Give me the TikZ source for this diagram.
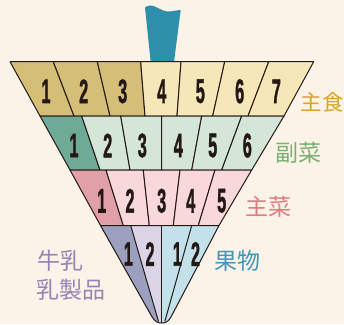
\documentclass[tikz,border=0pt]{standalone}
\usepackage{fontspec}
\newfontfamily\cjk{Noto Sans CJK JP}
\newfontfamily\numfont{Liberation Sans}[BoldFeatures={FakeBold=1.6}]
\definecolor{bg}{HTML}{FCF3E8}
\definecolor{ink}{HTML}{231815}
\definecolor{grainD}{HTML}{D4BE78}
\definecolor{grainL}{HTML}{F6E7B8}
\definecolor{vegD}{HTML}{6EAA95}
\definecolor{vegL}{HTML}{D4E6D7}
\definecolor{mainD}{HTML}{E1A0A8}
\definecolor{mainL}{HTML}{F9D8DC}
\definecolor{milkD}{HTML}{9BA0BE}
\definecolor{milkL}{HTML}{DAD4E6}
\definecolor{fruitL}{HTML}{C3E1EB}
\definecolor{handle}{HTML}{2E8FAA}
\definecolor{labGrain}{HTML}{D9A520}
\definecolor{labVeg}{HTML}{78AF6E}
\definecolor{labMain}{HTML}{E07B80}
\definecolor{labFruit}{HTML}{4196B9}
\definecolor{labMilk}{HTML}{9683B4}
\newcommand\dg[1]{\scalebox{0.48}[1]{\numfont\bfseries\fontsize{34}{34}\selectfont #1}}
\tikzset{
  cell/.style={draw=ink, line width=1pt, line join=round},
  divider/.style={draw=ink, line width=1pt},
  digit/.style={inner sep=0pt, text=ink},
  lab/.style={inner sep=0pt, anchor=base west, font=\cjk\fontsize{23}{23}\selectfont},
}
\begin{document}
\begin{tikzpicture}[x=1pt, y=-1pt]
\useasboundingbox (0,0) rectangle (344,324);
\fill[bg] (0,0) rectangle (344,324);
\clip (0,0) rectangle (344,324);
% handle
\fill[handle] (145,7.5) .. controls (148,5) and (152,5) .. (156,7)
  .. controls (161,9.5) and (165,12) .. (170,11.5)
  .. controls (174,11) and (178,10) .. (180.7,10)
  -- (174,62) -- (150.7,62) -- cycle;
% row 1 : grains
\filldraw[cell, fill=grainD] (10,61.7) -- (53.3,61.7) -- (74,116) -- (40,116) -- cycle;
\filldraw[cell, fill=grainD] (53.3,61.7) -- (97.3,61.7) -- (110,116) -- (74,116) -- cycle;
\filldraw[cell, fill=grainD] (97.3,61.7) -- (140.7,61.7) -- (145,116) -- (110,116) -- cycle;
\filldraw[cell, fill=grainL] (140.7,61.7) -- (181,61.7) -- (177,116) -- (145,116) -- cycle;
\filldraw[cell, fill=grainL] (181,61.7) -- (224.7,61.7) -- (212.7,116) -- (177,116) -- cycle;
\filldraw[cell, fill=grainL] (224.7,61.7) -- (268.7,61.7) -- (248,116) -- (212.7,116) -- cycle;
\filldraw[cell, fill=grainL] (268.7,61.7) -- (313.7,61.7) -- (284,116) -- (248,116) -- cycle;
% row 2 : vegetables
\filldraw[cell, fill=vegD] (40,116) -- (81.7,116) -- (100,170) -- (70,170) -- cycle;
\filldraw[cell, fill=vegL] (81.7,116) -- (120.7,116) -- (130,170) -- (100,170) -- cycle;
\filldraw[cell, fill=vegL] (120.7,116) -- (161.7,116) -- (161.7,170) -- (130,170) -- cycle;
\filldraw[cell, fill=vegL] (161.7,116) -- (201.7,116) -- (191.7,170) -- (161.7,170) -- cycle;
\filldraw[cell, fill=vegL] (201.7,116) -- (241.7,116) -- (221.7,170) -- (191.7,170) -- cycle;
\filldraw[cell, fill=vegL] (241.7,116) -- (284,116) -- (251.7,170) -- (221.7,170) -- cycle;
% row 3 : main dishes
\filldraw[cell, fill=mainD] (70,170) -- (106,170) -- (123.3,225.5) -- (100.5,225.5) -- cycle;
\filldraw[cell, fill=mainL] (106,170) -- (143.3,170) -- (149.3,225.5) -- (123.3,225.5) -- cycle;
\filldraw[cell, fill=mainL] (143.3,170) -- (180,170) -- (173.3,225.5) -- (149.3,225.5) -- cycle;
\filldraw[cell, fill=mainL] (180,170) -- (215,170) -- (198.3,225.5) -- (173.3,225.5) -- cycle;
\filldraw[cell, fill=mainL] (215,170) -- (251.7,170) -- (219,225.5) -- (198.3,225.5) -- cycle;
% row 4 : milk and fruit
\begin{scope}
  \clip (100.5,225.5) -- (151.5,316) .. controls (155,322) and (158,323) .. (161.7,323)
    .. controls (165.5,323) and (168.5,322) .. (171.5,316) -- (219,225.5) -- cycle;
  \fill[milkL] (90,225.5) rectangle (230,330);
  \fill[milkD] (90,225.5) -- (130.7,225.5) -- (159.3,325) -- (90,325) -- cycle;
  \fill[fruitL] (161.7,225.5) -- (230,225.5) -- (230,330) -- (161.7,330) -- cycle;
\end{scope}
\draw[divider] (130.7,225.5) -- (158.5,321.5);
\draw[divider] (161.7,225.5) -- (161.7,323);
\draw[divider] (191.7,225.5) -- (164.8,321.5);
\draw[cell] (100.5,225.5) -- (151.5,316) .. controls (155,322) and (158,323) .. (161.7,323)
    .. controls (165.5,323) and (168.5,322) .. (171.5,316) -- (219,225.5) -- cycle;
% digits row 1
\node[digit] (g1) at (46,91.3) {\dg{1}};
\node[digit] (g2) at (83.7,91.3) {\dg{2}};
\node[digit] (g3) at (122.7,91.3) {\dg{3}};
\node[digit] (g4) at (161.7,91.3) {\dg{4}};
\node[digit] (g5) at (200.3,91.3) {\dg{5}};
\node[digit] (g6) at (239.7,91.3) {\dg{6}};
\node[digit] (g7) at (276.3,91.3) {\dg{7}};
% digits row 2
\node[digit] (v1) at (74,145.5) {\dg{1}};
\node[digit] (v2) at (107.7,145.5) {\dg{2}};
\node[digit] (v3) at (142.3,145.5) {\dg{3}};
\node[digit] (v4) at (178.3,145.5) {\dg{4}};
\node[digit] (v5) at (212.7,145.5) {\dg{5}};
\node[digit] (v6) at (247.3,145.5) {\dg{6}};
% digits row 3
\node[digit] (m1) at (101.7,200.8) {\dg{1}};
\node[digit] (m2) at (130,200.8) {\dg{2}};
\node[digit] (m3) at (161.7,200.8) {\dg{3}};
\node[digit] (m4) at (190.7,200.8) {\dg{4}};
\node[digit] (m5) at (221.7,200.8) {\dg{5}};
% digits row 4
\node[digit] (k1) at (128.3,254) {\dg{1}};
\node[digit] (k2) at (150,254) {\dg{2}};
\node[digit] (f1) at (177.3,254) {\dg{1}};
\node[digit] (f2) at (195.5,254) {\dg{2}};
% labels
\node[lab, text=labGrain, font=\cjk\fontsize{21.5}{21.5}\selectfont] (lgrain) at (300.5,110) {主食};
\node[lab, text=labVeg] (lveg) at (275,161.7) {副菜};
\node[lab, text=labMain] (lmain) at (245,215.7) {主菜};
\node[lab, text=labFruit] (lfruit) at (214,269.4) {果物};
\node[lab, text=labMilk] (lmilk1) at (37,269) {牛乳};
\node[lab, text=labMilk] (lmilk2) at (36,298.4) {乳製品};
\end{tikzpicture}
\end{document}
